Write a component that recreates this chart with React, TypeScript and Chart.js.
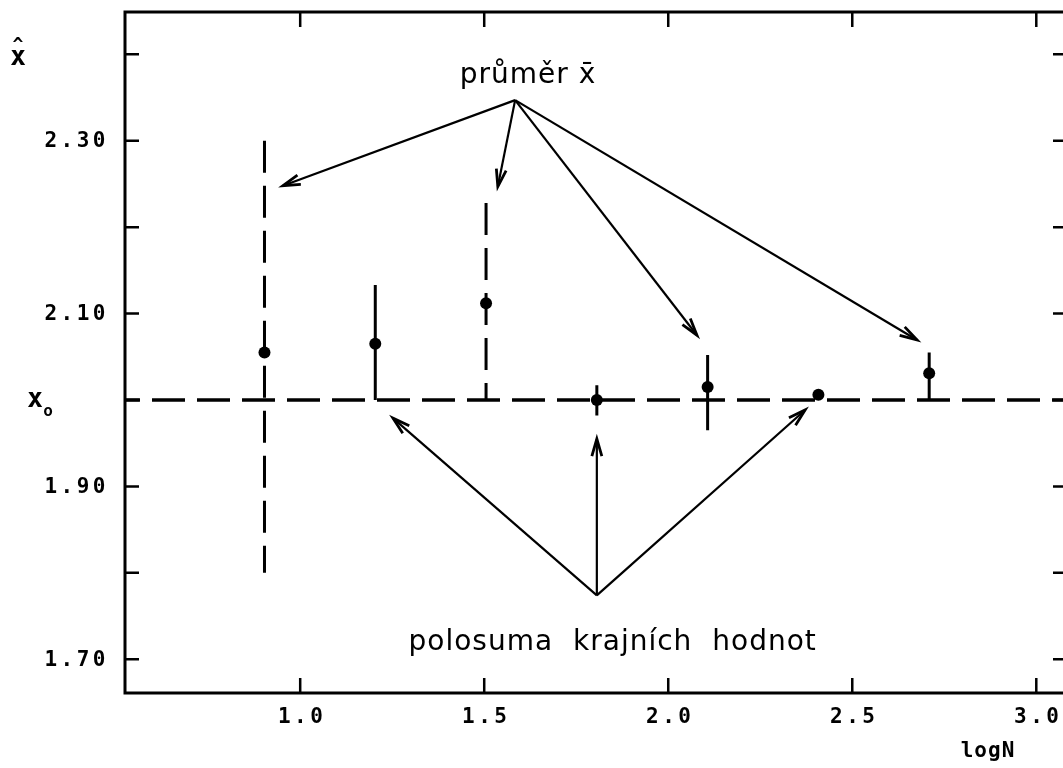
import React, { useEffect, useRef } from "react";
import { Chart, registerables } from "chart.js";

Chart.register(...registerables);

// Sample sizes N = 8 … 512, plotted as log10 N
const logN = [0.903, 1.204, 1.505, 1.806, 2.107, 2.408, 2.709];
// Arithmetic mean of the estimates at each N
const meanX = [2.055, 2.065, 2.112, 2.0, 2.015, 2.006, 2.031];
// Spread of the estimates (lower / upper end of each vertical bar)
const lowX = [1.8, 2.0, 2.0, 1.982, 1.965, 2.006, 2.0];
const highX = [2.3, 2.133, 2.228, 2.017, 2.052, 2.006, 2.055];
const dashedBars = [true, false, true, false, false, false, false];

// True value x0
const trueX0 = 2.0;

const xTicks = [1.0, 1.5, 2.0, 2.5, 3.0];
const xTickLabels = ["1.0", "1.5", "2.0", "2.5", "3.0"];
const yTicks = [1.7, 1.8, 1.9, 2.0, 2.1, 2.2, 2.3, 2.4];
const yTickLabels = ["1.70", "", "1.90", "", "2.10", "", "2.30", ""];

const X_MIN = 0.524;
const X_MAX = 3.078;
const Y_MIN = 1.661;
const Y_MAX = 2.449;

// Annotations, in data coordinates (logN, x)
const meanLabel = "průměr x̄";
const meanLabelAt = [1.619, 2.367];
const meanArrowFrom = [1.584, 2.347];
const meanArrowTo = [
  [0.953, 2.248],
  [1.537, 2.247],
  [2.078, 2.075],
  [2.676, 2.0695],
];
const midLabel = "polosuma krajních hodnot";
const midLabelAt = [1.849, 1.711];
const midArrowFrom = [1.806, 1.774];
const midArrowTo = [
  [1.252, 1.979],
  [1.806, 1.955],
  [2.372, 1.9885],
];

const MONO = '"DejaVu Sans Mono", "Liberation Mono", monospace';
const SANS = '"DejaVu Sans", "Liberation Sans", sans-serif';

function drawArrow(
  ctx: CanvasRenderingContext2D,
  x1: number,
  y1: number,
  x2: number,
  y2: number
) {
  const ang = Math.atan2(y2 - y1, x2 - x1);
  const len = 18;
  const spread = 0.28;
  ctx.beginPath();
  ctx.moveTo(x1, y1);
  ctx.lineTo(x2, y2);
  ctx.stroke();
  ctx.save();
  ctx.lineWidth = 2.8;
  ctx.beginPath();
  ctx.moveTo(x2 - len * Math.cos(ang - spread), y2 - len * Math.sin(ang - spread));
  ctx.lineTo(x2, y2);
  ctx.lineTo(x2 - len * Math.cos(ang + spread), y2 - len * Math.sin(ang + spread));
  ctx.stroke();
  ctx.restore();
}

const framePlugin = {
  id: "plotterFrame",
  afterDraw(chart: any) {
    const { ctx, chartArea } = chart;
    const xs = chart.scales.x;
    const ys = chart.scales.y;
    const { left, right, top, bottom } = chartArea;
    ctx.save();
    ctx.strokeStyle = "#000";
    ctx.fillStyle = "#000";
    ctx.lineCap = "butt";

    // frame
    ctx.lineWidth = 3;
    ctx.beginPath();
    ctx.moveTo(left, top);
    ctx.lineTo(right, top);
    ctx.lineTo(right, bottom);
    ctx.lineTo(left, bottom);
    ctx.closePath();
    ctx.stroke();

    // inward ticks
    ctx.lineWidth = 2.5;
    yTicks.forEach((v) => {
      const y = ys.getPixelForValue(v);
      ctx.beginPath();
      ctx.moveTo(left, y);
      ctx.lineTo(left + 14, y);
      ctx.moveTo(right, y);
      ctx.lineTo(right - 12, y);
      ctx.stroke();
    });
    xTicks.forEach((v) => {
      const x = xs.getPixelForValue(v);
      ctx.beginPath();
      ctx.moveTo(x, bottom);
      ctx.lineTo(x, bottom - 15);
      ctx.moveTo(x, top);
      ctx.lineTo(x, top + 15);
      ctx.stroke();
    });

    // tick labels
    ctx.font = `bold 21px ${MONO}`;
    (ctx as any).letterSpacing = "3.5px";
    ctx.textBaseline = "middle";
    ctx.textAlign = "right";
    yTicks.forEach((v, i) => {
      if (!yTickLabels[i]) return;
      ctx.fillText(yTickLabels[i], left - 16, ys.getPixelForValue(v) + 1);
    });
    ctx.textAlign = "center";
    xTicks.forEach((v, i) => {
      ctx.fillText(xTickLabels[i], xs.getPixelForValue(v) + 2, bottom + 25);
    });

    // axis titles
    ctx.font = `bold 21px ${MONO}`;
    (ctx as any).letterSpacing = "1px";
    ctx.fillText("logN", 988, 752);

    (ctx as any).letterSpacing = "0px";
    ctx.font = `bold 26px ${MONO}`;
    ctx.textAlign = "center";
    ctx.textBaseline = "alphabetic";
    ctx.fillText("x", 18, 65);
    ctx.font = `bold 18px ${MONO}`;
    ctx.fillText("^", 18, 50);

    const y0 = ys.getPixelForValue(trueX0);
    ctx.font = `bold 26px ${MONO}`;
    ctx.fillText("x", 35, y0 + 7);
    ctx.font = `bold 16px ${MONO}`;
    ctx.fillText("o", 48, y0 + 16);

    // annotations
    ctx.lineWidth = 2.2;
    const fx = xs.getPixelForValue(meanArrowFrom[0]);
    const fy = ys.getPixelForValue(meanArrowFrom[1]);
    meanArrowTo.forEach(([ax, ay]) =>
      drawArrow(ctx, fx, fy, xs.getPixelForValue(ax), ys.getPixelForValue(ay))
    );
    const gx = xs.getPixelForValue(midArrowFrom[0]);
    const gy = ys.getPixelForValue(midArrowFrom[1]);
    midArrowTo.forEach(([ax, ay]) =>
      drawArrow(ctx, gx, gy, xs.getPixelForValue(ax), ys.getPixelForValue(ay))
    );

    ctx.font = `28px ${SANS}`;
    ctx.textAlign = "center";
    ctx.textBaseline = "alphabetic";
    (ctx as any).letterSpacing = "1px";
    ctx.fillText(
      meanLabel,
      xs.getPixelForValue(meanLabelAt[0]),
      ys.getPixelForValue(meanLabelAt[1])
    );
    (ctx as any).wordSpacing = "10px";
    ctx.fillText(
      midLabel,
      xs.getPixelForValue(midLabelAt[0]),
      ys.getPixelForValue(midLabelAt[1])
    );
    (ctx as any).wordSpacing = "0px";
    (ctx as any).letterSpacing = "0px";
    ctx.restore();
  },
};

export default function App() {
  const canvasRef = useRef<HTMLCanvasElement | null>(null);

  useEffect(() => {
    if (!canvasRef.current) return;

    const datasets: any[] = [
      {
        data: [
          { x: X_MIN, y: trueX0 },
          { x: X_MAX, y: trueX0 },
        ],
        showLine: true,
        borderColor: "#000",
        borderWidth: 3.5,
        borderDash: [33, 12],
        borderDashOffset: 18,
        pointRadius: 0,
      },
    ];
    logN.forEach((x, i) => {
      datasets.push({
        data: [
          { x, y: highX[i] },
          { x, y: lowX[i] },
        ],
        showLine: true,
        borderColor: "#000",
        borderWidth: 3,
        borderDash: dashedBars[i] ? [32, 13] : [],
        pointRadius: 0,
      });
    });
    datasets.push({
      data: logN.map((x, i) => ({ x, y: meanX[i] })),
      showLine: false,
      pointRadius: 6,
      pointBackgroundColor: "#000",
      pointBorderColor: "#000",
      pointBorderWidth: 0,
    });

    const chart = new Chart(canvasRef.current, {
      type: "scatter",
      data: { datasets },
      options: {
        animation: false,
        responsive: false,
        devicePixelRatio: 1,
        events: [],
        layout: { padding: { left: 125, top: 12, right: 7, bottom: 75 } },
        scales: {
          x: { type: "linear", min: X_MIN, max: X_MAX, display: false },
          y: { type: "linear", min: Y_MIN, max: Y_MAX, display: false },
        },
        plugins: {
          legend: { display: false },
          tooltip: { enabled: false },
        },
      },
      plugins: [framePlugin],
    } as any);

    return () => chart.destroy();
  }, []);

  return (
    <div
      style={{
        position: "fixed",
        left: 0,
        top: 0,
        width: 1063,
        height: 768,
        overflow: "hidden",
        background: "#fff",
      }}
    >
      <canvas
        ref={canvasRef}
        width={1072}
        height={768}
        style={{ display: "block", width: 1072, height: 768 }}
      />
    </div>
  );
}
